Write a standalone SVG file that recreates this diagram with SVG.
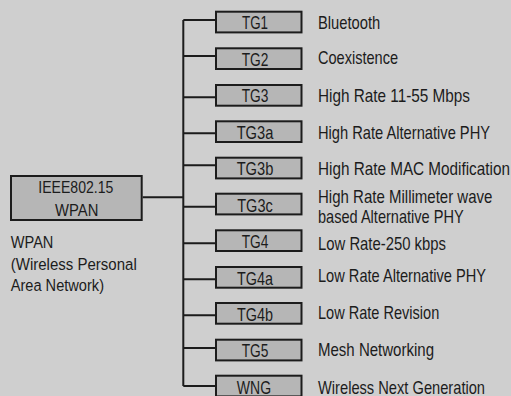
<svg xmlns="http://www.w3.org/2000/svg" width="511" height="396" viewBox="0 0 511 396">
<style>
.bg{fill:#cfcfcf}
.box{fill:#b6b6b6;stroke:#1c1c1c;stroke-width:2}
.ln{fill:none;stroke:#1c1c1c;stroke-width:2}
text{font-family:"Liberation Sans",Arial,sans-serif;font-size:18px;fill:#1c1c1c}
.s{font-size:17px}
.c{text-anchor:middle}
</style>
<rect class="bg" x="0" y="0" width="511" height="396"/>
<g id="connectors">
<path class="ln" d="M142.7 197.3H183.3M183.3 20V386M183.3 20H216M183.3 56H216M183.3 97.3H216M183.3 133.3H216M183.3 165.3H216M183.3 206.7H216M183.3 243.3H216M183.3 279.3H216M183.3 315.3H216M183.3 348H216M183.3 386H216"/>
</g>
<g id="ieee">
<rect class="box" x="11" y="176" width="130.7" height="44"/>
<text class="c s" transform="translate(75.8 193.3) scale(0.82 1)" textLength="91.5" lengthAdjust="spacingAndGlyphs">IEEE802.15</text>
<text class="c s" transform="translate(76.7 216) scale(0.82 1)" textLength="52.8" lengthAdjust="spacingAndGlyphs">WPAN</text>
</g>
<g id="wpan-label">
<text class="s" transform="translate(10.7 248.3) scale(0.82 1)" textLength="52.1" lengthAdjust="spacingAndGlyphs">WPAN</text>
<text class="s" transform="translate(10.7 270) scale(0.82 1)" textLength="153.7" lengthAdjust="spacingAndGlyphs">(Wireless Personal</text>
<text class="s" transform="translate(10.7 290.5) scale(0.82 1)" textLength="113.8" lengthAdjust="spacingAndGlyphs">Area Network)</text>
</g>
<g id="tg1">
<rect class="box" x="216" y="11.7" width="85.5" height="20.7"/>
<text class="c" transform="translate(255 29.3) scale(0.82 1)" textLength="31.7" lengthAdjust="spacingAndGlyphs">TG1</text>
<text transform="translate(318 29.3) scale(0.82 1)" textLength="76" lengthAdjust="spacingAndGlyphs">Bluetooth</text>
</g>
<g id="tg2">
<rect class="box" x="216" y="48.3" width="85.5" height="20.7"/>
<text class="c" transform="translate(255 65.7) scale(0.82 1)" textLength="32.6" lengthAdjust="spacingAndGlyphs">TG2</text>
<text transform="translate(318 63.5) scale(0.82 1)" textLength="97.6" lengthAdjust="spacingAndGlyphs">Coexistence</text>
</g>
<g id="tg3">
<rect class="box" x="216" y="85" width="85.5" height="20.7"/>
<text class="c" transform="translate(255 101.7) scale(0.82 1)" textLength="32.6" lengthAdjust="spacingAndGlyphs">TG3</text>
<text transform="translate(318 101.7) scale(0.82 1)" textLength="185.4" lengthAdjust="spacingAndGlyphs">High Rate 11-55 Mbps</text>
</g>
<g id="tg3a">
<rect class="box" x="216" y="121.3" width="85.5" height="20.7"/>
<text class="c" transform="translate(255 138.7) scale(0.82 1)" textLength="44.8" lengthAdjust="spacingAndGlyphs">TG3a</text>
<text transform="translate(318 138.7) scale(0.82 1)" textLength="209.8" lengthAdjust="spacingAndGlyphs">High Rate Alternative PHY</text>
</g>
<g id="tg3b">
<rect class="box" x="216" y="157.7" width="85.5" height="20.7"/>
<text class="c" transform="translate(255 175) scale(0.82 1)" textLength="44.8" lengthAdjust="spacingAndGlyphs">TG3b</text>
<text transform="translate(318 174.5) scale(0.82 1)" textLength="234" lengthAdjust="spacingAndGlyphs">High Rate MAC Modification</text>
</g>
<g id="tg3c">
<rect class="box" x="216" y="193.7" width="85.5" height="20.7"/>
<text class="c" transform="translate(255 211.7) scale(0.82 1)" textLength="43.3" lengthAdjust="spacingAndGlyphs">TG3c</text>
<text transform="translate(318 203.3) scale(0.82 1)" textLength="212.7" lengthAdjust="spacingAndGlyphs">High Rate Millimeter wave</text>
<text transform="translate(318 222.7) scale(0.82 1)" textLength="177.6" lengthAdjust="spacingAndGlyphs">based Alternative PHY</text>
</g>
<g id="tg4">
<rect class="box" x="216" y="230.3" width="85.5" height="20.7"/>
<text class="c" transform="translate(255 248.3) scale(0.82 1)" textLength="32.6" lengthAdjust="spacingAndGlyphs">TG4</text>
<text transform="translate(318 250) scale(0.82 1)" textLength="156.1" lengthAdjust="spacingAndGlyphs">Low Rate-250 kbps</text>
</g>
<g id="tg4a">
<rect class="box" x="216" y="267" width="85.5" height="20.7"/>
<text class="c" transform="translate(255 284.7) scale(0.82 1)" textLength="43.9" lengthAdjust="spacingAndGlyphs">TG4a</text>
<text transform="translate(318 282.3) scale(0.82 1)" textLength="204.9" lengthAdjust="spacingAndGlyphs">Low Rate Alternative PHY</text>
</g>
<g id="tg4b">
<rect class="box" x="216" y="303" width="85.5" height="20.7"/>
<text class="c" transform="translate(255 321.3) scale(0.82 1)" textLength="43.9" lengthAdjust="spacingAndGlyphs">TG4b</text>
<text transform="translate(318 319.3) scale(0.82 1)" textLength="147.9" lengthAdjust="spacingAndGlyphs">Low Rate Revision</text>
</g>
<g id="tg5">
<rect class="box" x="216" y="339.7" width="85.5" height="20.7"/>
<text class="c" transform="translate(255 357) scale(0.82 1)" textLength="32.6" lengthAdjust="spacingAndGlyphs">TG5</text>
<text transform="translate(318 355.5) scale(0.82 1)" textLength="141.5" lengthAdjust="spacingAndGlyphs">Mesh Networking</text>
</g>
<g id="wng">
<rect class="box" x="216" y="375.7" width="85.5" height="20.7"/>
<text class="c" transform="translate(254 394) scale(0.82 1)" textLength="41.8" lengthAdjust="spacingAndGlyphs">WNG</text>
<text transform="translate(318 393.7) scale(0.82 1)" textLength="203.7" lengthAdjust="spacingAndGlyphs">Wireless Next Generation</text>
</g>
</svg>
